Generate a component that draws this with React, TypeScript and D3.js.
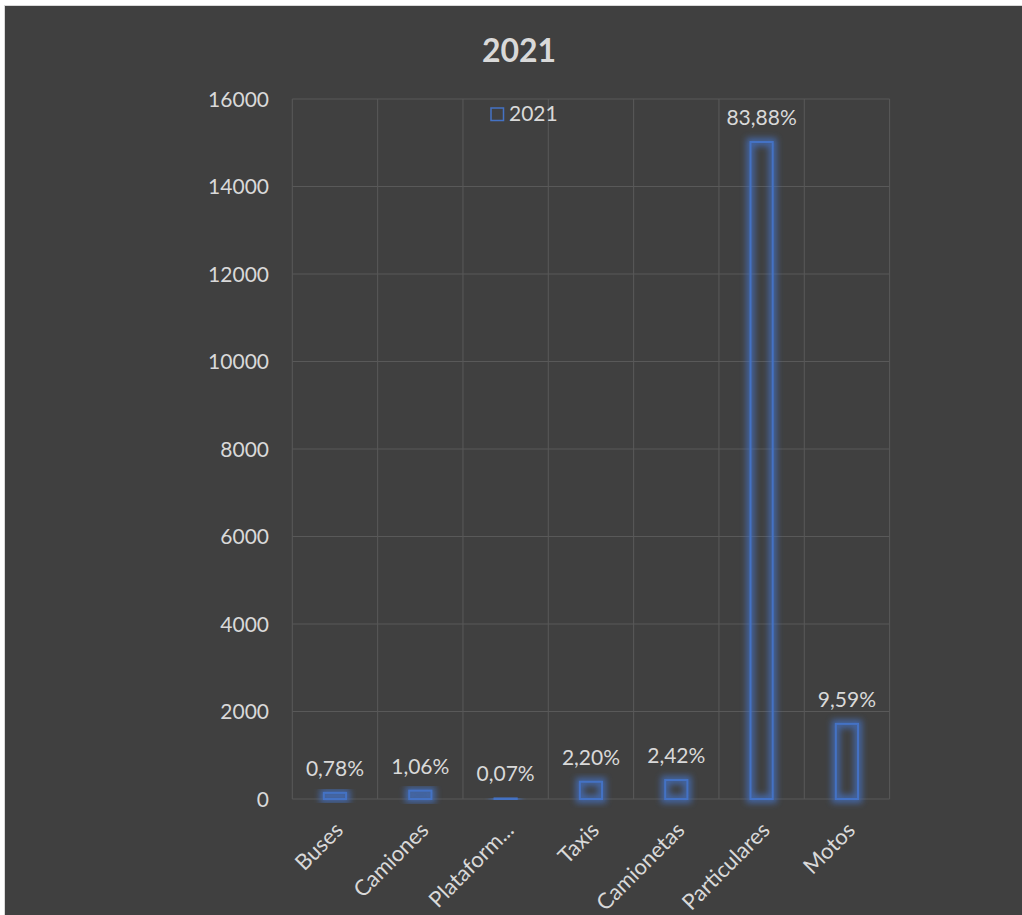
import React from "react";
import * as d3 from "d3";

const categories = ["Buses", "Camiones", "Plataform...", "Taxis", "Camionetas", "Particulares", "Motos"];
const values = [140, 190, 13, 394, 433, 15017, 1717];
const percentLabels = ["0,78%", "1,06%", "0,07%", "2,20%", "2,42%", "83,88%", "9,59%"];
const yTicks = [0, 2000, 4000, 6000, 8000, 10000, 12000, 14000, 16000];
const seriesName = "2021";
const title = "2021";

const W = 1022;
const H = 915;
const plot = { left: 292.3, right: 889.6, top: 99, bottom: 799 };
const BLUE = "#4472C4";
const TEXT = "#d9d9d9";
const GRID = "#595959";
const BG = "#404040";
const FONT = "Lato, 'Open Sans', sans-serif";

export default function App() {
  const x = d3.scaleBand<string>().domain(categories).range([plot.left, plot.right]).padding(0);
  const y = d3.scaleLinear().domain([0, 16000]).range([plot.bottom, plot.top]);
  const bw = x.bandwidth() * 0.26;
  const boundaries = categories.map((c) => x(c) as number).concat([plot.right]);

  return (
    <svg width={W} height={H} style={{ position: "absolute", left: 0, top: 0, display: "block" }}>
      <defs>
        <filter id="glow" x="-50%" y="-50%" width="200%" height="200%">
          <feGaussianBlur stdDeviation="3" />
        </filter>
      </defs>
      <rect x={0} y={0} width={W} height={H} fill="#ffffff" />
      <rect x={4.5} y={5.5} width={W + 10} height={H + 10} fill={BG} stroke="#d9d9d9" strokeWidth={1} />
      <text x={519} y={62} textAnchor="middle" fill={TEXT} fontFamily={FONT} fontWeight="bold" fontSize={32}>
        {title}
      </text>
      {yTicks.map((t) => (
        <g key={t}>
          <line x1={plot.left} x2={plot.right} y1={y(t)} y2={y(t)} stroke={GRID} strokeWidth={1} />
          <text x={269} y={y(t)} dy="0.36em" textAnchor="end" fill={TEXT} fontFamily={FONT} fontSize={21}>
            {t}
          </text>
        </g>
      ))}
      {boundaries.map((b, i) => (
        <line key={i} x1={b} x2={b} y1={plot.top} y2={plot.bottom} stroke={GRID} strokeWidth={1} />
      ))}
      {categories.map((c, i) => {
        const cx = (x(c) as number) + x.bandwidth() / 2;
        const top = y(values[i]);
        const h = y(0) - top;
        return (
          <g key={c}>
            <rect x={cx - bw / 2} y={top} width={bw} height={h} fill="none" stroke={BLUE} strokeWidth={8} opacity={0.75} filter="url(#glow)" />
            <rect x={cx - bw / 2} y={top} width={bw} height={h} fill="none" stroke={BLUE} strokeWidth={2} />
            <text x={cx} y={top - 17} textAnchor="middle" fill={TEXT} fontFamily={FONT} fontSize={21}>
              {percentLabels[i]}
            </text>
            <text
              transform={`translate(${cx + 4},${plot.bottom + 27}) rotate(-45)`}
              textAnchor="end"
              dy="0.36em"
              fill={TEXT}
              fontFamily={FONT}
              fontSize={22}
            >
              {c}
            </text>
          </g>
        );
      })}
      <rect x={491} y={108} width={12.5} height={12.5} fill="none" stroke={BLUE} strokeWidth={1.5} />
      <text x={509} y={121} fill={TEXT} fontFamily={FONT} fontSize={21}>
        {seriesName}
      </text>
    </svg>
  );
}
